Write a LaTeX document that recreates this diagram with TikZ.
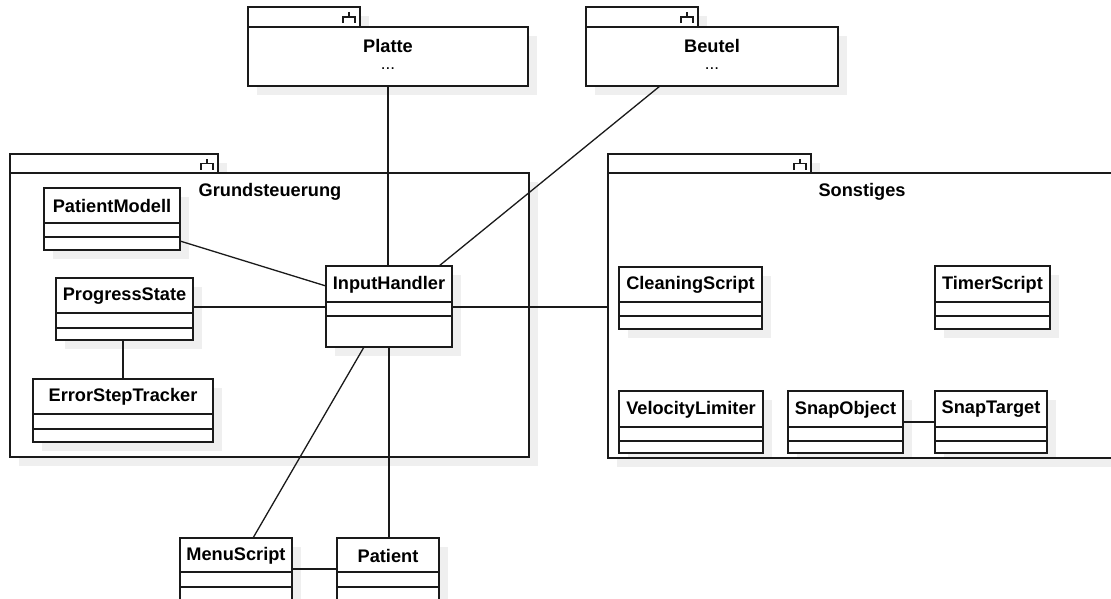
\documentclass[tikz,border=0pt]{standalone}
\usepackage{fontspec}
\setmainfont{Liberation Sans}
\usetikzlibrary{calc}
\definecolor{shadowgray}{HTML}{EFEFEF}
\definecolor{inkgray}{HTML}{1A1A1A}

\tikzset{
  ln/.style={line width=1.3pt, draw=inkgray},
  boxfill/.style={ln, fill=white},
  framenode/.style={boxfill, inner sep=0pt, outer sep=0pt, anchor=north west},
  clsname/.style={font=\fontsize{18.2}{21}\selectfont\bfseries, inner sep=0pt},
  pkgtitle/.style={font=\fontsize{18.2}{21}\selectfont\bfseries, inner sep=0pt},
  pkgdots/.style={font=\fontsize{17}{20}\selectfont, inner sep=0pt},
  link/.style={ln},
}

% UML class: name, x1, y1, x2, y2, header bottom, divider, title
\newcommand\umlcls[8]{%
  \fill[shadowgray] (#2+9,#3+9) rectangle (#4+9,#5+9);
  \node[framenode, minimum width={(#4-#2)*1pt}, minimum height={(#5-#3)*1pt}] (#1) at (#2,#3) {};
  \draw[ln] (#2,#6) -- (#4,#6) (#2,#7) -- (#4,#7);
  \node[clsname] at ({(#2+#4)/2},{(#3+#6)/2+0.5}) {#8};
}

% UML package: name, x1, tab top, tab right, body top, x2, y2
\newcommand\umlpkg[7]{%
  \fill[shadowgray] (#2+9,#3+9) rectangle (#4+9,#5+9);
  \fill[shadowgray] (#2+9,#5+9) rectangle (#6+9,#7+9);
  \draw[boxfill] (#2,#3) rectangle (#4,#5);
  \node[framenode, minimum width={(#6-#2)*1pt}, minimum height={(#7-#5)*1pt}] (#1) at (#2,#5) {};
  \draw[ln, line width=1.1pt] (#4-17,{(#3+#5)/2+6}) -- (#4-17,{(#3+#5)/2}) -- (#4-5,{(#3+#5)/2}) -- (#4-5,{(#3+#5)/2+6})
                               (#4-11,{(#3+#5)/2}) -- (#4-11,{(#3+#5)/2-5});
}

\begin{document}
\begin{tikzpicture}[x=1pt, y=-1pt]
  \useasboundingbox (0,0) rectangle (1111,598);
  \clip (0,0) rectangle (1111,598);
  \fill[white] (0,0) rectangle (1111,598);

  % packages
  \umlpkg{platte}{248}{7}{360}{27}{528}{86}
  \node[pkgtitle] at (388,46) {Platte};
  \node[pkgdots] at (388,69) {...};

  \umlpkg{beutel}{586}{7}{698}{27}{838}{86}
  \node[pkgtitle] at (712,46) {Beutel};
  \node[pkgdots] at (712,69) {...};

  \umlpkg{grund}{10}{154}{218}{173}{529}{457}
  \node[pkgtitle] at (270,192) {Grundsteuerung};

  \umlpkg{sonst}{608}{154}{811}{173}{1116}{458}
  \node[pkgtitle] at (862,192) {Sonstiges};

  % classes
  \umlcls{pm}{44}{188}{180}{250}{223}{237}{PatientModell}
  \umlcls{ps}{56}{278}{193}{340}{313}{328}{ProgressState}
  \umlcls{est}{33}{379}{213}{442}{414}{429}{ErrorStepTracker}
  \umlcls{ih}{326}{266}{452}{347}{302}{316}{InputHandler}
  \umlcls{cs}{619}{267}{762}{329}{302}{316}{CleaningScript}
  \umlcls{ts}{935}{266}{1050}{329}{302}{316}{TimerScript}
  \umlcls{vl}{619}{391}{763}{453}{427}{441}{VelocityLimiter}
  \umlcls{so}{788}{391}{903}{453}{427}{441}{SnapObject}
  \umlcls{st}{935}{391}{1047}{453}{427}{441}{SnapTarget}
  \umlcls{menu}{180}{538}{292}{620}{572}{587}{MenuScript}
  \umlcls{pat}{337}{538}{439}{620}{572}{587}{Patient}

  % package frames stay above the class shadows
  \draw[ln] (grund.north west) rectangle (grund.south east);
  \draw[ln] (sonst.north west) rectangle (sonst.south east);

  % attachment points on box borders
  \coordinate (beutelport) at ($(beutel.south west)+(74,0)$);
  \coordinate (ihtop) at ($(ih.north west)+(113,0)$);
  \coordinate (pmport) at ($(pm.south east)+(0,-9)$);
  \coordinate (ihleft) at ($(ih.north west)+(0,20)$);
  \coordinate (psport) at ($(ps.north east)+(0,29)$);
  \coordinate (psdown) at ($(ps.south west)+(67,0)$);
  \coordinate (ihright) at ($(ih.north east)+(0,41)$);
  \coordinate (ihlow) at ($(ih.south west)+(38,0)$);
  \coordinate (menutop) at ($(menu.north west)+(73,0)$);
  \coordinate (menuport) at ($(menu.north east)+(0,31)$);
  \coordinate (patport) at ($(pat.north west)+(0,31)$);

  % associations
  \draw[link] (platte.south) -- (platte.south |- ih.north);
  \draw[link] (beutelport) -- (ihtop);
  \draw[link] (pmport) -- (ihleft);
  \draw[link] (psport) -- (psport -| ih.west);
  \draw[link] (psdown) -- (psdown |- est.north);
  \draw[link] (ihright) -- (ihright -| sonst.west);
  \draw[link] (ih.south) -- (ih.south |- pat.north);
  \draw[link] (ihlow) -- (menutop);
  \draw[link] (menuport) -- (patport);
  \draw[link] (so.east) -- (st.west);
\end{tikzpicture}
\end{document}
